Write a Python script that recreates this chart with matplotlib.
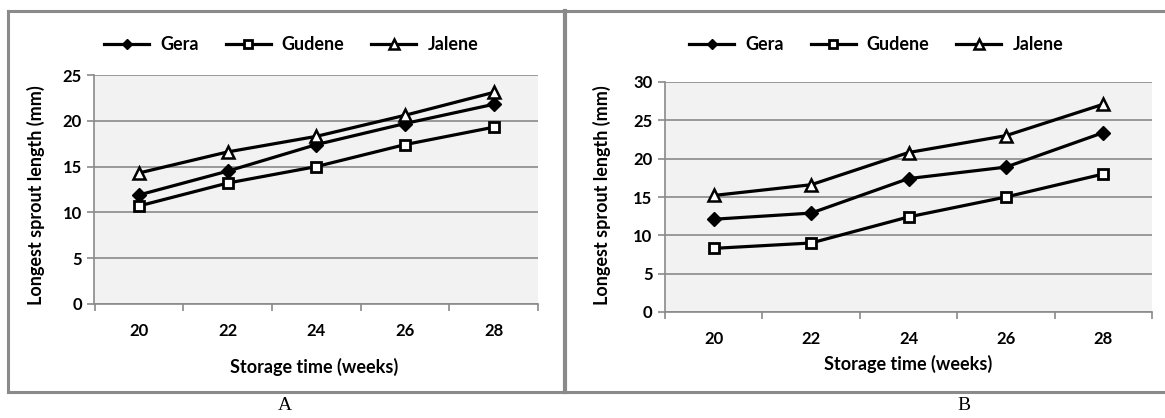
import matplotlib
matplotlib.use("Agg")
import matplotlib.pyplot as plt
from matplotlib.lines import Line2D

weeks = ["20", "22", "24", "26", "28"]
series_names = ["Gera", "Gudene", "Jalene"]

gera_a = [11.9, 14.5, 17.4, 19.7, 21.8]
gudene_a = [10.7, 13.2, 15.0, 17.4, 19.3]
jalene_a = [14.3, 16.6, 18.3, 20.6, 23.1]

gera_b = [12.1, 12.9, 17.4, 18.9, 23.4]
gudene_b = [8.3, 9.0, 12.4, 15.0, 18.0]
jalene_b = [15.2, 16.6, 20.8, 23.0, 27.1]

W, H = 1165, 418
fig = plt.figure(figsize=(W / 100, H / 100), dpi=100)
FONT = "Lato"
GRAY = "#8a8a8a"

styles = [
    dict(marker="D", markersize=7, markerfacecolor="black", markeredgecolor="black", markeredgewidth=1),
    dict(marker="s", markersize=7.5, markerfacecolor="white", markeredgecolor="black", markeredgewidth=2),
    dict(marker="^", markersize=8.5, markerfacecolor="white", markeredgecolor="black", markeredgewidth=1.8),
]


def fr(x0, y0, x1, y1):
    return [x0 / W, 1 - y1 / H, (x1 - x0) / W, (y1 - y0) / H]


def panel(rect, data, ymax, ylabel_x, legend_center, xlabel_x, xlabel_y):
    ax = fig.add_axes(fr(*rect))
    ax.set_facecolor("#f2f2f2")
    x = list(range(len(weeks)))
    for name, vals, st in zip(series_names, data, styles):
        ax.plot(x, vals, color="black", lw=2.3, label=name, zorder=3, **st)
    ax.set_xlim(-0.5, len(weeks) - 0.5)
    ax.set_ylim(0, ymax)
    ax.set_yticks(range(0, ymax + 1, 5))
    ax.yaxis.grid(True, color=GRAY, lw=1.2)
    ax.set_axisbelow(True)
    ax.set_xticks(x)
    ax.set_xticklabels(weeks)
    ax.set_xticks([i - 0.5 for i in range(len(weeks) + 1)], minor=True)
    ax.tick_params(axis="x", which="major", length=0, pad=14)
    ax.tick_params(axis="x", which="minor", length=5, width=1.2, color=GRAY, direction="out")
    ax.tick_params(axis="y", length=5, width=1.2, color=GRAY, pad=4)
    for lab in ax.get_xticklabels() + ax.get_yticklabels():
        lab.set_fontfamily(FONT)
        lab.set_fontweight("bold")
        lab.set_fontsize(12)
    for s in ["top", "right"]:
        ax.spines[s].set_visible(False)
    for s in ["left", "bottom"]:
        ax.spines[s].set_color(GRAY)
        ax.spines[s].set_linewidth(1.2)
    fig.text(ylabel_x / W, 1 - 195 / H, "Longest sprout length (mm)", rotation=90,
             ha="center", va="center", fontfamily=FONT, fontweight="bold", fontsize=13)
    fig.text(xlabel_x / W, 1 - xlabel_y / H,
             "Storage time (weeks)", ha="center", va="center", fontfamily=FONT,
             fontweight="bold", fontsize=13)
    ax.legend(loc="center", bbox_to_anchor=(legend_center[0] / W, 1 - legend_center[1] / H),
              bbox_transform=fig.transFigure, ncol=3, frameon=False,
              handlelength=2.5, handletextpad=0.6, columnspacing=1.5,
              markerscale=0.8, prop=dict(family=FONT, weight="bold", size=13))
    return ax


panel((94.5, 75, 538, 304), [gera_a, gudene_a, jalene_a], 25, 36, (291, 45), 314, 367)
panel((665, 82, 1152, 312), [gera_b, gudene_b, jalene_b], 30, 602, (876, 45), 908, 364)

# frame
lw = 2.2
fig.add_artist(Line2D([8 / W, 1.0], [1 - 11 / H] * 2, transform=fig.transFigure, color=GRAY, lw=lw))
fig.add_artist(Line2D([8 / W, 1.0], [1 - 392 / H] * 2, transform=fig.transFigure, color=GRAY, lw=lw))
fig.add_artist(Line2D([8 / W] * 2, [1 - 11 / H, 1 - 392 / H], transform=fig.transFigure, color=GRAY, lw=lw))
fig.add_artist(Line2D([565 / W] * 2, [1 - 11 / H, 1 - 392 / H], transform=fig.transFigure, color=GRAY, lw=3))

fig.text(285 / W, 1 - 406 / H, "A", ha="center", va="center", fontfamily="Liberation Serif", fontsize=14)
fig.text(964 / W, 1 - 406 / H, "B", ha="center", va="center", fontfamily="Liberation Serif", fontsize=14)

fig.savefig("out.png", dpi=100)
